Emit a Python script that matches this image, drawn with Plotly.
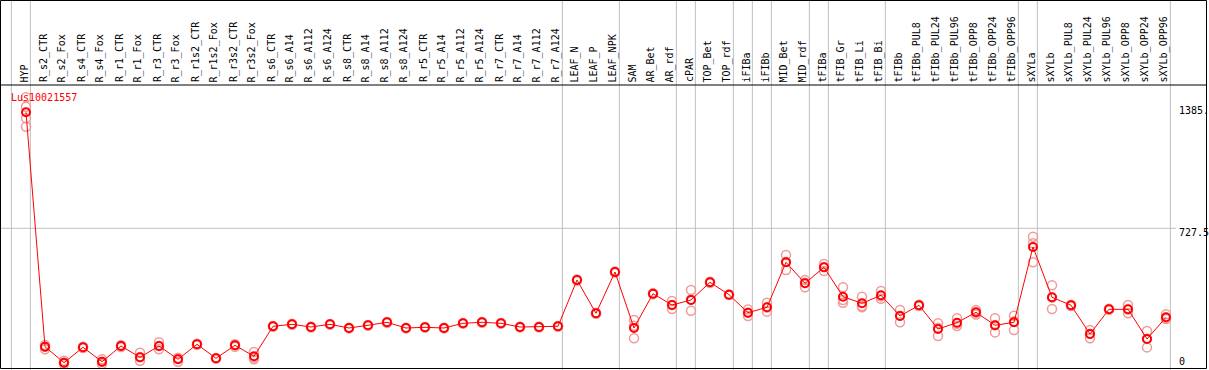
import plotly.graph_objects as go

categories = ["HYP", "R_s2_CTR", "R_s2_Fox", "R_s4_CTR", "R_s4_Fox", "R_r1_CTR", "R_r1_Fox",
              "R_r3_CTR", "R_r3_Fox", "R_r1s2_CTR", "R_r1s2_Fox", "R_r3s2_CTR", "R_r3s2_Fox",
              "R_s6_CTR", "R_s6_A14", "R_s6_A112", "R_s6_A124", "R_s8_CTR", "R_s8_A14",
              "R_s8_A112", "R_s8_A124", "R_r5_CTR", "R_r5_A14", "R_r5_A112", "R_r5_A124",
              "R_r7_CTR", "R_r7_A14", "R_r7_A112", "R_r7_A124", "LEAF_N", "LEAF_P", "LEAF_NPK",
              "SAM", "AR_Bet", "AR_rdf", "cPAR", "TOP_Bet", "TOP_rdf", "iFIBa", "iFIBb",
              "MID_Bet", "MID_rdf", "tFIBa", "tFIB_Gr", "tFIB_Li", "tFIB_Bi", "tFIBb",
              "tFIBb_PUL8", "tFIBb_PUL24", "tFIBb_PUL96", "tFIBb_OPP8", "tFIBb_OPP24",
              "tFIBb_OPP96", "sXYLa", "sXYLb", "sXYLb_PUL8", "sXYLb_PUL24", "sXYLb_PUL96",
              "sXYLb_OPP8", "sXYLb_OPP24", "sXYLb_OPP96"]

mean_vals = [1337.7, 104.7, 20.5, 101.5, 25.8, 108.4, 48.9, 108.4, 38.4, 117.3, 43.7, 112.0, 54.2,
             212.0, 222.5, 208.3, 222.5, 203.0, 217.3, 233.0, 203.0, 206.7, 203.0, 227.8, 233.0,
             227.8, 208.3, 208.3, 212.0, 455.5, 280.4, 497.6, 203.0, 383.5, 324.0, 350.3, 443.5,
             378.2, 283.5, 312.0, 548.7, 438.2, 522.4, 367.7, 333.0, 375.0, 266.2, 322.5, 197.8,
             231.0, 285.6, 217.3, 233.0, 629.1, 364.5, 322.5, 171.5, 301.4, 301.4, 145.2, 259.3]

rep_a = [1416.6, 113.6, 31.0, 104.7, 38.4, 113.6, 73.1, 127.8, 46.8, 120.0, 45.0, 117.3, 76.8,
         214, 225, 210, 224, 205, 219, 235, 205, 208, 205, 230, 235, 230, 210, 210, 214,
         458, 283, 500, 245, 386, 345, 403, 447, 380, 301, 336, 587, 455, 540, 417, 368, 398,
         298, 326, 228, 254, 298, 254, 268, 683, 428, 326, 192, 304, 324, 187, 275]
rep_b = [1367.2, 91.0, 12.0, 97.8, 13.7, 103.0, 31.0, 91.0, 25.8, 115.0, 43.0, 104.7, 38.4,
         210, 220, 206, 221, 201, 216, 231, 201, 205, 201, 226, 231, 226, 206, 206, 210,
         453, 278, 495, 149, 380, 303, 294, 440, 376, 266, 289, 508, 417, 503, 350, 312, 357,
         233, 319, 161, 214, 285, 180, 192, 649, 303, 319, 149, 299, 280, 101, 250]
rep_c = [1306.2, 104.7, 20.5, 101.5, 25.0, 108.4, 49.0, 108.4, 42.0, 117.0, 43.0, 114.0, 47.4,
         212, 222, 209, 222, 203, 217, 233, 203, 207, 203, 228, 233, 228, 209, 209, 212,
         455, 280, 498, 215, 384, 324, 353, 443, 378, 283, 311, 551, 442, 524, 336, 319, 370,
         268, 322, 205, 225, 274, 217, 239, 549, 363, 322, 173, 301, 300, 147, 253]
rep_d = [1262.0] + [None] * 60

group_last = [-1, 0, 28, 31, 34, 35, 37, 38, 39, 41, 42, 45, 52, 53, 60]

ytick_vals = [0, 727.5, 1385]
ytick_text = ["0", "727.5", "1385."]
gene = "Lus10021557"

W, H = 1209, 370
FONT = "DejaVu Sans Mono"
xs = list(range(len(categories)))

fig = go.Figure()
for reps in (rep_a, rep_b, rep_c, rep_d):
    fig.add_trace(go.Scatter(
        x=xs, y=reps, mode="markers", hoverinfo="skip",
        marker=dict(symbol="circle-open", size=9, color="#f09a9a",
                    line=dict(width=1.5, color="#f09a9a")),
        showlegend=False))
fig.add_trace(go.Scatter(
    x=xs, y=mean_vals, mode="lines+markers",
    line=dict(color="#ff0000", width=1),
    marker=dict(symbol="circle-open", size=8, color="#ff0000",
                line=dict(width=2, color="#ff0000")),
    showlegend=False))

# pixel geometry
hdr_px = 85
bot_px = 368.5
y_bottom = (H - bot_px) / H
y_top = (H - hdr_px) / H

shapes = []
for g in group_last:
    shapes.append(dict(type="line", xref="x", yref="paper", x0=g + 0.23, x1=g + 0.23,
                       y0=0, y1=1, line=dict(color="#c0c0c0", width=1), layer="below"))
shapes.append(dict(type="line", xref="paper", yref="y", x0=0, x1=1176 / W,
                   y0=ytick_vals[1], y1=ytick_vals[1],
                   line=dict(color="#c0c0c0", width=1), layer="below"))
# frame and header separator
shapes.append(dict(type="rect", xref="paper", yref="paper", x0=0.5 / W, x1=1206.5 / W,
                   y0=(H - bot_px) / H, y1=(H - 0.5) / H,
                   line=dict(color="black", width=1)))
shapes.append(dict(type="line", xref="paper", yref="paper", x0=0, x1=1206.5 / W,
                   y0=y_top, y1=y_top, line=dict(color="black", width=1)))

annotations = []
for i, c in enumerate(categories):
    annotations.append(dict(x=i - 0.08, y=(H - 83) / H, xref="x", yref="paper", text=c,
                            textangle=-90, showarrow=False, xanchor="center", yanchor="bottom",
                            font=dict(family=FONT, size=10, color="black"), borderpad=0))
annotations.append(dict(x=9 / W, y=(H - 97) / H, xref="paper", yref="paper", text=gene,
                        showarrow=False, xanchor="left", yanchor="middle",
                        font=dict(family=FONT, size=10, color="#ff0000")))
shifts = [5, -4, -7]
for v, t, s in zip(ytick_vals, ytick_text, shifts):
    annotations.append(dict(x=1177 / W, y=v, xref="paper", yref="y", text=t, showarrow=False,
                            xanchor="left", yanchor="middle", yshift=s,
                            font=dict(family=FONT, size=10, color="black")))

x0 = -26 / 19
x1 = (W - 26) / 19
v_at = lambda py: (366.6 - py) / 0.1901

fig.update_layout(
    width=W, height=H, margin=dict(l=0, r=0, t=0, b=0),
    paper_bgcolor="white", plot_bgcolor="white",
    xaxis=dict(range=[x0, x1], domain=[0, 1], showgrid=False, zeroline=False,
               showticklabels=False, ticks=""),
    yaxis=dict(range=[v_at(bot_px), v_at(hdr_px)], domain=[y_bottom, y_top], showgrid=False,
               zeroline=False, showticklabels=False, ticks=""),
    shapes=shapes, annotations=annotations,
)

fig.write_html("out.html", config={"displayModeBar": False},
               post_script="document.body.style.margin='0';document.body.style.overflow='hidden';")
